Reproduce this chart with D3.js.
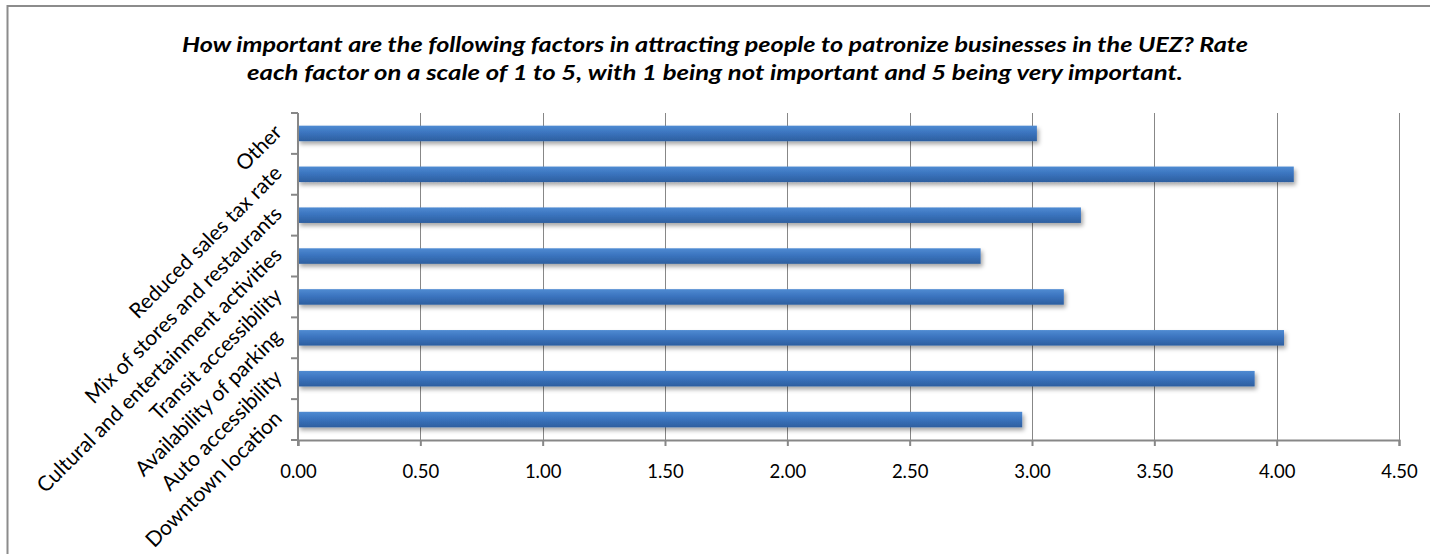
<!DOCTYPE html>
<html>
<head>
<meta charset="utf-8">
<script src="https://cdn.jsdelivr.net/npm/d3@7"></script>
<style>
  html, body { margin: 0; padding: 0; background: #fff; }
  svg { display: block; }
</style>
</head>
<body>
<svg id="chart" width="1430" height="554"></svg>
<script>
// ---- data (bottom to top, as in the original category order) ----
const categories = [
  "Downtown location",
  "Auto accessibility",
  "Availability of parking",
  "Transit accessibility",
  "Cultural and entertainment activities",
  "Mix of stores and restaurants",
  "Reduced sales tax rate",
  "Other"
];
const values = [2.96, 3.91, 4.03, 3.13, 2.79, 3.20, 4.07, 3.02];
const tickValues = [0, 0.5, 1, 1.5, 2, 2.5, 3, 3.5, 4, 4.5];
const titleLines = [
  "How important are the following factors in attracting people to patronize businesses in the UEZ? Rate",
  "each factor on a scale of 1 to 5, with 1 being not important and 5 being very important."
];

const FONT = "Lato, 'Open Sans', 'Liberation Sans', sans-serif";
const svg = d3.select("#chart");
const W = 1430, H = 554;
const plot = { left: 298, right: 1399, top: 113, bottom: 440 };

// frame
svg.append("path")
  .attr("d", `M7.5,${H + 5} L7.5,6 L${W + 5},6`)
  .attr("fill", "none").attr("stroke", "#8c8c8c").attr("stroke-width", 2);

// defs
const defs = svg.append("defs");
const grad = defs.append("linearGradient").attr("id", "barGrad")
  .attr("x1", 0).attr("y1", 0).attr("x2", 0).attr("y2", 1);
grad.append("stop").attr("offset", "0%").attr("stop-color", "#4f8bd2");
grad.append("stop").attr("offset", "45%").attr("stop-color", "#3b74bf");
grad.append("stop").attr("offset", "100%").attr("stop-color", "#2d5f9f");
const filt = defs.append("filter").attr("id", "shadow")
  .attr("x", "-5%").attr("y", "-50%").attr("width", "110%").attr("height", "220%");
filt.append("feDropShadow").attr("dx", 2).attr("dy", 3).attr("stdDeviation", 2)
  .attr("flood-color", "#000").attr("flood-opacity", 0.35);

// title
const title = svg.append("g");
titleLines.forEach((t, i) => {
  title.append("text")
    .attr("x", 715).attr("y", 52 + i * 28)
    .attr("text-anchor", "middle")
    .attr("font-family", FONT)
    .attr("font-size", 21.5).attr("font-weight", "bold").attr("font-style", "italic")
    .attr("fill", "#000")
    .attr("textLength", i === 0 ? 1066 : 936)
    .attr("lengthAdjust", "spacingAndGlyphs")
    .text(t);
});

// scales
const x = d3.scaleLinear().domain([0, 4.5]).range([plot.left, plot.right]);
const y = d3.scaleBand().domain(categories.slice().reverse())
  .range([plot.top, plot.bottom]).paddingInner(0.62).paddingOuter(0.31);

// gridlines
svg.append("g").selectAll("line")
  .data(tickValues.filter(v => v > 0))
  .join("line")
  .attr("x1", d => Math.round(x(d)) + 0.5).attr("x2", d => Math.round(x(d)) + 0.5)
  .attr("y1", plot.top).attr("y2", plot.bottom)
  .attr("stroke", "#878787").attr("stroke-width", 1);

// bars
svg.append("g").selectAll("rect")
  .data(categories.map((c, i) => ({ c, v: values[i] })))
  .join("rect")
  .attr("x", x(0))
  .attr("y", d => y(d.c))
  .attr("width", d => x(d.v) - x(0))
  .attr("height", y.bandwidth())
  .attr("fill", "url(#barGrad)")
  .attr("filter", "url(#shadow)");

// x axis
const xAxis = d3.axisBottom(x).tickValues(tickValues).tickFormat(d3.format(".2f"))
  .tickSize(6).tickPadding(19);
const gx = svg.append("g").attr("transform", `translate(0,${plot.bottom})`).call(xAxis);
gx.select(".domain").attr("stroke", "#878787").attr("stroke-width", 2);
gx.selectAll(".tick line").attr("stroke", "#878787").attr("stroke-width", 2);
gx.selectAll(".tick text")
  .attr("font-family", FONT)
  .attr("font-size", 18.5).attr("fill", "#000");

// y axis: ticks at band boundaries
svg.append("line")
  .attr("x1", plot.left).attr("x2", plot.left)
  .attr("y1", plot.top).attr("y2", plot.bottom + 6)
  .attr("stroke", "#878787").attr("stroke-width", 2);
const step = y.step();
const bounds = d3.range(categories.length + 1).map(i => plot.top + i * step);
svg.append("g").selectAll("line").data(bounds).join("line")
  .attr("x1", plot.left - 7).attr("x2", plot.left)
  .attr("y1", d => d).attr("y2", d => d)
  .attr("stroke", "#878787").attr("stroke-width", 2);

// category labels rotated
svg.append("g").selectAll("text").data(categories).join("text")
  .attr("transform", d => `translate(${plot.left - 20},${y(d) + y.bandwidth() / 2 - 5}) rotate(-45)`)
  .attr("text-anchor", "end")
  .attr("dy", "0.35em")
  .attr("font-family", FONT)
  .attr("font-size", 21).attr("fill", "#000")
  .text(d => d);
</script>
</body>
</html>
